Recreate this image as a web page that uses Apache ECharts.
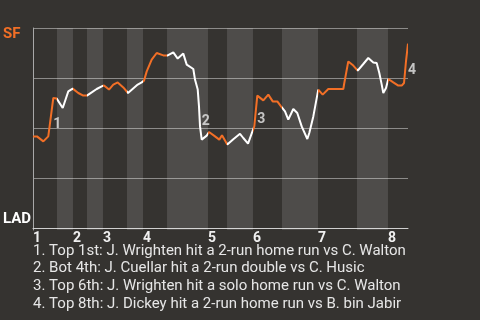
<!DOCTYPE html>
<html><head><meta charset="utf-8">
<script src="https://cdn.jsdelivr.net/npm/echarts@6/dist/echarts.min.js"></script>
<style>html,body{margin:0;padding:0;background:#353330;}#c{width:480px;height:320px;}</style>
</head><body><div id="c"></div>
<script>
// play progress (x) and SF win probability (y)
const playX = [0,0.85,2.2,3.26,4.33,5.06,6.34,7.53,8.47,9.66,10.73,11.5,12.52,13.59,14.66,15.15,16.21,17.13,18.07,19.26,20.27,22.34,23.19,23.68,24.26,25.32,26.39,26.73,27.8,28.74,29.93,30.87,32.06,32.79,34.2,34.56,35.14,35.41,35.63,35.99,36.33,37.06,37.55,38.83,39.74,40.32,41.45,42.73,44.16,44.86,45.87,46.72,47.21,47.85,49.13,50.2,51.14,52.12,52.91,53.76,54.46,55.53,56.38,57.32,58.52,58.94,59.8,60.86,61.8,63.0,66.2,66.41,67.26,68.33,69.27,70.46,71.53,72.6,73.32,73.88,74.39,74.73,75.31,75.8,76.86,77.93,78.66,79.15,79.57,80];
const winProb = [0.458,0.458,0.433,0.458,0.65,0.647,0.60,0.683,0.697,0.675,0.662,0.662,0.678,0.695,0.708,0.713,0.692,0.717,0.728,0.703,0.675,0.717,0.728,0.737,0.783,0.842,0.875,0.883,0.863,0.863,0.878,0.847,0.872,0.817,0.795,0.742,0.692,0.608,0.508,0.442,0.433,0.462,0.48,0.458,0.442,0.464,0.417,0.444,0.471,0.45,0.422,0.477,0.508,0.662,0.638,0.667,0.633,0.633,0.608,0.583,0.542,0.595,0.575,0.508,0.445,0.475,0.558,0.692,0.667,0.695,0.695,0.725,0.833,0.812,0.787,0.82,0.85,0.828,0.825,0.775,0.717,0.675,0.7,0.745,0.728,0.712,0.712,0.725,0.833,0.922];
// half-inning boundaries (top 1st, bot 1st, top 2nd, ...)
const halfInningBounds = [0,5.12,8.53,11.52,14.93,20.05,23.47,28.59,37.33,41.39,46.93,53.12,60.8,69.12,75.73,80];
const inningLabels = ['1','2','3','4','5','6','7','8'];
// key events
const eventLabels = ['1','2','3','4'];
const eventX = [4.33,36.0,47.85,80];
const eventY = [0.52,0.533,0.545,0.79];
const eventTexts = [
  '1. Top 1st: J. Wrighten hit a 2-run home run vs C. Walton',
  '2. Bot 4th: J. Cuellar hit a 2-run double vs C. Husic',
  '3. Top 6th: J. Wrighten hit a solo home run vs C. Walton',
  '4. Top 8th: J. Dickey hit a 2-run home run vs B. bin Jabir'
];
const sfLabel = 'SF', ladLabel = 'LAD';

const ORANGE = '#f26f26', WHITE = '#ffffff';
const inningStarts = halfInningBounds.filter((v,i)=> i%2===0 && i<halfInningBounds.length-1);
const pieces = [];
const bands = [];
for (let i=0;i<halfInningBounds.length-1;i++){
  const p = {gte: halfInningBounds[i], color: i%2===0 ? ORANGE : WHITE};
  if (i<halfInningBounds.length-2) p.lt = halfInningBounds[i+1]; else p.lte = halfInningBounds[i+1];
  pieces.push(p);
  if (i%2===1) bands.push([{xAxis: halfInningBounds[i]},{xAxis: halfInningBounds[i+1]}]);
}
const lineData = playX.map((x,i)=>[x, winProb[i]]);
const eventData = eventX.map((x,i)=>({value:[x,eventY[i]], label:{formatter: eventLabels[i]}}));

const chart = echarts.init(document.getElementById('c'), null, {renderer:'canvas'});
chart.setOption({
  backgroundColor: '#353330',
  animation: false,
  textStyle: {fontFamily: 'Roboto'},
  grid: {left: 33, right: 72, top: 28, height: 202},
  xAxis: {
    type: 'value', min: 0, max: 80,
    axisLine: {show: true, lineStyle: {color: '#cfcfcf', width: 1}},
    axisTick: {show: false},
    splitLine: {show: false},
    axisLabel: {
      customValues: inningStarts,
      formatter: v => { const k = inningStarts.findIndex(s => Math.abs(s - v) < 1e-6); return k >= 0 ? inningLabels[k] : ''; },
      color: '#f0f0f0', fontSize: 14, fontWeight: 'bold', fontFamily: 'Roboto',
      align: 'left', margin: 1, lineHeight: 14
    }
  },
  yAxis: {
    type: 'value', min: -0.01, max: 1,
    axisLine: {show: true, lineStyle: {color: '#a8a8a8', width: 1}},
    axisTick: {show: false, customValues: [0.25,0.5,0.75,1]},
    axisLabel: {show: false},
    splitLine: {show: true, lineStyle: {color: '#8c8b89', width: 1}}
  },
  visualMap: {type: 'piecewise', show: false, dimension: 0, seriesIndex: 0, pieces: pieces},
  series: [
    {
      type: 'line', data: lineData, symbol: 'none', lineStyle: {width: 2}, z: 3,
      markArea: {silent: true, itemStyle: {color: 'rgba(255,255,255,0.127)'}, data: bands}
    },
    {
      type: 'scatter', data: eventData, symbolSize: 0, z: 4,
      label: {show: true, position: 'right', distance: 0, color: '#e8e8e8', fontSize: 14, fontWeight: 'bold', fontFamily: 'Roboto'}
    }
  ],
  graphic: [
    {type: 'text', left: 3, top: 27, style: {text: sfLabel, fill: ORANGE, font: 'bold 15px Roboto'}},
    {type: 'text', left: 3, top: 212, style: {text: ladLabel, fill: '#ffffff', font: 'bold 15px Roboto'}},
    {type: 'text', left: 33, top: 242, style: {text: eventTexts.join('\n'), fill: '#e6e6e6', font: '15px Roboto', lineHeight: 17.8}}
  ]
});
</script></body></html>
